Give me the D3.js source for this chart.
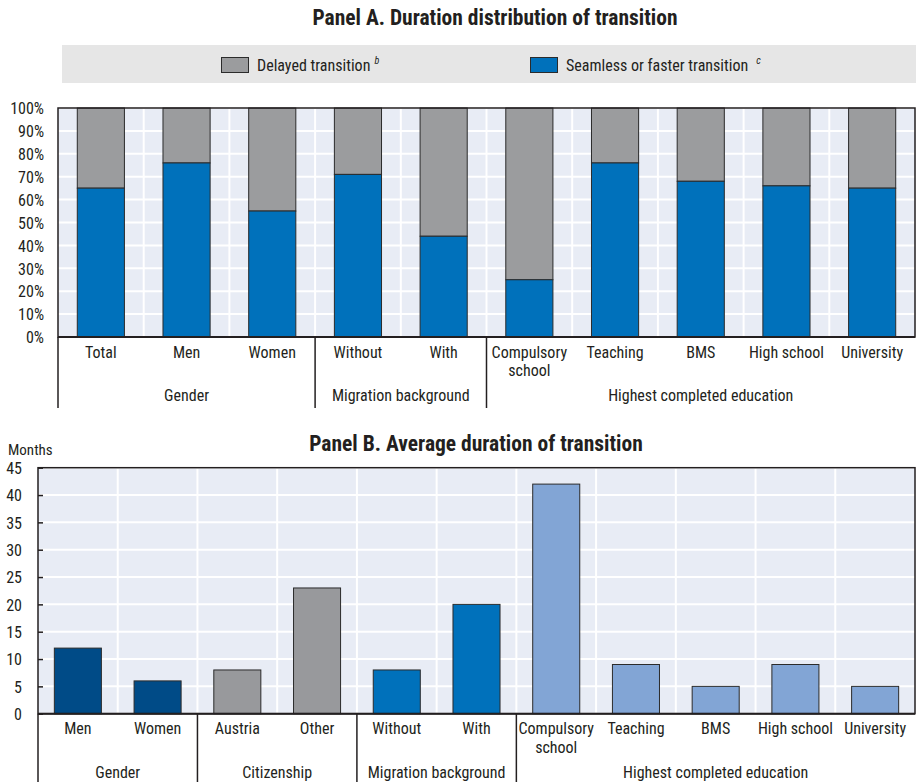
<!DOCTYPE html>
<html>
<head>
<meta charset="utf-8">
<script src="https://cdn.jsdelivr.net/npm/d3@7"></script>
<style>
  body { margin: 0; background: #fff; }
  svg text { font-family: 'Liberation Sans Narrow', 'Arial Narrow', 'Roboto Condensed', 'Liberation Sans', sans-serif; fill: #231f20; }
</style>
</head>
<body>
<svg id="chart" width="916" height="782"></svg>
<script>
// Panel A: share of young people by duration of school-to-work transition (%)
const catsA = ["Total", "Men", "Women", "Without", "With", "Compulsory school", "Teaching", "BMS", "High school", "University"];
const seamlessA = [65, 76, 55, 71, 44, 25, 76, 68, 66, 65];
const groupsA = [
  { label: "Gender", from: 0, to: 3 },
  { label: "Migration background", from: 3, to: 5 },
  { label: "Highest completed education", from: 5, to: 10 }
];
const ticksA = [0, 10, 20, 30, 40, 50, 60, 70, 80, 90, 100];

// Panel B: average duration of transition (months)
const catsB = ["Men", "Women", "Austria", "Other", "Without", "With", "Compulsory school", "Teaching", "BMS", "High school", "University"];
const monthsB = [12, 6, 8, 23, 8, 20, 42, 9, 5, 9, 5];
const groupsB = [
  { label: "Gender", from: 0, to: 2, color: "#004b87" },
  { label: "Citizenship", from: 2, to: 4, color: "#98999c" },
  { label: "Migration background", from: 4, to: 6, color: "#0071bb" },
  { label: "Highest completed education", from: 6, to: 11, color: "#82a5d5" }
];
const ticksB = [0, 5, 10, 15, 20, 25, 30, 35, 40, 45];

const C = { plotBg: "#e8ecf5", grid: "#ffffff", gray: "#9b9c9e", blue: "#0071bb", edge: "#2b2b2b", axis: "#231f20" };
const svg = d3.select("#chart");

// category label, split onto two lines for the long one
function catLabel(sel, x, y, text, size, lh) {
  const t = sel.append("text").attr("x", x).attr("y", y).attr("text-anchor", "middle").style("font-size", size + "px");
  if (text === "Compulsory school") {
    ["Compulsory", "school"].forEach((w, i) => t.append("tspan").attr("x", x).attr("dy", i ? lh : 0).text(w));
  } else {
    t.text(text);
  }
}

/* ---------- Panel A ---------- */
{
  const L = 58, R = 915, T = 108, B = 337;
  const x = d3.scaleBand().domain(catsA).range([L, R]).paddingInner(0.45).paddingOuter(0.225);
  const y = d3.scaleLinear().domain([0, 100]).range([B, T]);
  const step = x.step();
  const gap = (step - x.bandwidth()) / 2;

  svg.append("text").attr("x", 495).attr("y", 25).attr("text-anchor", "middle")
    .style("font-size", "21.5px").style("font-weight", "bold").text("Panel A. Duration distribution of transition");

  // legend band
  const lg = svg.append("g");
  lg.append("rect").attr("x", 62).attr("y", 45).attr("width", 854).attr("height", 38).attr("fill", "#e6e6e6");
  const items = [
    { label: "Delayed transition", sup: "b", color: C.gray, x: 221, supDx: 4 },
    { label: "Seamless or faster transition", sup: "c", color: C.blue, x: 530, supDx: 8 }
  ];
  items.forEach(it => {
    lg.append("rect").attr("x", it.x + 0.5).attr("y", 57.5).attr("width", 27).attr("height", 15)
      .attr("fill", it.color).attr("stroke", C.edge).attr("stroke-width", 1);
    const t = lg.append("text").attr("x", it.x + 36).attr("y", 71).style("font-size", "16px");
    t.append("tspan").text(it.label);
    t.append("tspan").attr("dx", it.supDx).attr("dy", -7).style("font-size", "10px").style("font-style", "italic").text(it.sup);
  });

  svg.append("rect").attr("x", L).attr("y", T).attr("width", R - L).attr("height", B - T).attr("fill", C.plotBg);
  const g = svg.append("g");
  g.selectAll(".hg").data(ticksA).join("line").attr("x1", L).attr("x2", R)
    .attr("y1", d => y(d)).attr("y2", d => y(d)).attr("stroke", C.grid).attr("stroke-width", 2);
  g.selectAll(".vg").data(catsA.slice(1)).join("line")
    .attr("x1", d => x(d) - gap).attr("x2", d => x(d) - gap)
    .attr("y1", T).attr("y2", B).attr("stroke", C.grid).attr("stroke-width", 2);

  // stacked bars: seamless at bottom, delayed on top
  catsA.forEach((c, i) => {
    const v = seamlessA[i];
    g.append("rect").attr("x", x(c)).attr("width", x.bandwidth()).attr("y", y(100)).attr("height", y(v) - y(100))
      .attr("fill", C.gray).attr("stroke", C.edge).attr("stroke-width", 1);
    g.append("rect").attr("x", x(c)).attr("width", x.bandwidth()).attr("y", y(v)).attr("height", y(0) - y(v))
      .attr("fill", C.blue).attr("stroke", C.edge).attr("stroke-width", 1);
  });

  // frame
  svg.append("rect").attr("x", L).attr("y", T).attr("width", R - L).attr("height", B - T)
    .attr("fill", "none").attr("stroke", C.axis).attr("stroke-width", 1.5);
  svg.append("line").attr("x1", L).attr("x2", R).attr("y1", B).attr("y2", B).attr("stroke", C.axis).attr("stroke-width", 2);

  const ya = svg.append("g").attr("transform", `translate(${L},0)`)
    .call(d3.axisLeft(y).tickValues(ticksA).tickSize(0).tickPadding(14).tickFormat(d => d + "%"));
  ya.select(".domain").remove();
  ya.selectAll("text").style("font-size", "16px").attr("fill", C.axis).attr("dy", "0.36em");

  catsA.forEach(c => catLabel(svg, x(c) + x.bandwidth() / 2, 358, c, 16, 18));

  groupsA.forEach(gr => {
    const x0 = L + gr.from * step, x1 = L + gr.to * step;
    svg.append("text").attr("x", (x0 + x1) / 2).attr("y", 401).attr("text-anchor", "middle")
      .style("font-size", "16px").text(gr.label);
    svg.append("line").attr("x1", x0).attr("x2", x0).attr("y1", B).attr("y2", 408)
      .attr("stroke", C.axis).attr("stroke-width", 1.5);
  });
}

/* ---------- Panel B ---------- */
{
  const L = 38, R = 915, T = 467.7, B = 713.7;
  const x = d3.scaleBand().domain(catsB).range([L, R]).paddingInner(0.41).paddingOuter(0.205);
  const y = d3.scaleLinear().domain([0, 45]).range([B, T]);
  const step = x.step();
  const gap = (step - x.bandwidth()) / 2;

  svg.append("text").attr("x", 476).attr("y", 451).attr("text-anchor", "middle")
    .style("font-size", "21.5px").style("font-weight", "bold").text("Panel B. Average duration of transition");
  svg.append("text").attr("x", 8).attr("y", 455).style("font-size", "15px").text("Months");

  svg.append("rect").attr("x", L).attr("y", T).attr("width", R - L).attr("height", B - T).attr("fill", C.plotBg);
  const g = svg.append("g");
  g.selectAll(".hg").data(ticksB).join("line").attr("x1", L).attr("x2", R)
    .attr("y1", d => y(d)).attr("y2", d => y(d)).attr("stroke", C.grid).attr("stroke-width", 2);
  g.selectAll(".vg").data(catsB.slice(1)).join("line")
    .attr("x1", d => x(d) - gap).attr("x2", d => x(d) - gap)
    .attr("y1", T).attr("y2", B).attr("stroke", C.grid).attr("stroke-width", 2);

  const colorOf = i => groupsB.find(gr => i >= gr.from && i < gr.to).color;
  g.selectAll(".bar").data(catsB).join("rect")
    .attr("x", d => x(d)).attr("width", x.bandwidth())
    .attr("y", (d, i) => y(monthsB[i])).attr("height", (d, i) => y(0) - y(monthsB[i]))
    .attr("fill", (d, i) => colorOf(i)).attr("stroke", C.edge).attr("stroke-width", 1);

  svg.append("rect").attr("x", L).attr("y", T).attr("width", R - L).attr("height", B - T)
    .attr("fill", "none").attr("stroke", C.axis).attr("stroke-width", 1.5);
  svg.append("line").attr("x1", L).attr("x2", R).attr("y1", B).attr("y2", B).attr("stroke", C.axis).attr("stroke-width", 2);

  const ya = svg.append("g").attr("transform", `translate(${L},0)`)
    .call(d3.axisLeft(y).tickValues(ticksB).tickSize(-5).tickPadding(16));
  ya.select(".domain").remove();
  ya.selectAll("line").attr("stroke", C.axis).attr("stroke-width", 1.5);
  ya.selectAll("text").style("font-size", "16px").attr("fill", C.axis).attr("dy", "0.36em");

  catsB.forEach(c => catLabel(svg, x(c) + x.bandwidth() / 2, 734, c, 16, 19));

  groupsB.forEach(gr => {
    const x0 = L + gr.from * step, x1 = L + gr.to * step;
    svg.append("text").attr("x", (x0 + x1) / 2).attr("y", 778).attr("text-anchor", "middle")
      .style("font-size", "16px").text(gr.label);
    svg.append("line").attr("x1", x0).attr("x2", x0).attr("y1", B).attr("y2", 782)
      .attr("stroke", C.axis).attr("stroke-width", 1.5);
  });
}
</script>
</body>
</html>
